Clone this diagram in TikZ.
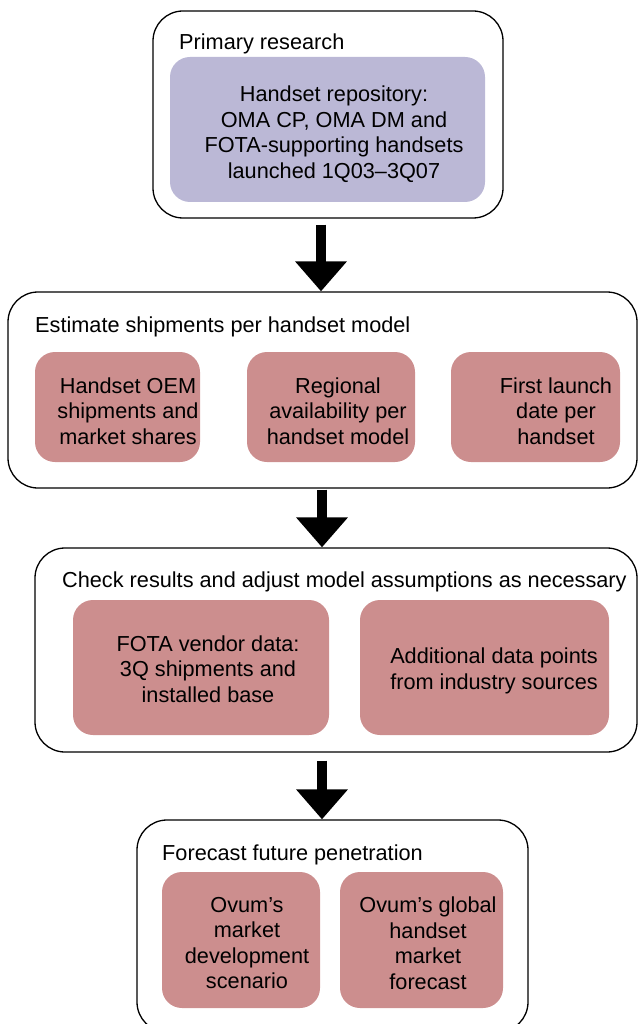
\documentclass[tikz,border=0pt]{standalone}
\usepackage{fontspec}
\setmainfont{Liberation Sans}
\usetikzlibrary{arrows.meta}
\definecolor{lav}{HTML}{BBB8D6}
\definecolor{rose}{HTML}{CC8E8E}
\begin{document}
\begin{tikzpicture}[x=1pt,y=-1pt,
  outer/.style={draw=black,line width=1.3pt,rounded corners=30pt,inner sep=0pt,minimum width=#1},
  inbox/.style={fill=rose,draw=none,rounded corners=20pt,inner sep=0pt},
  lbl/.style={align=center,inner sep=0pt,font=\fontsize{21.7}{25.5}\selectfont},
  ttl/.style={anchor=base west,inner sep=0pt,font=\fontsize{21.7}{25.5}\selectfont},
  bigarrow/.style={line width=10pt,-{Triangle[width=50pt,length=30pt]}}
]
\useasboundingbox (0,0) rectangle (638,1024);
% Box 1
\node[outer=350pt,minimum height=207pt] (b1) at (328,114.5) {};
\node[ttl] (t1) at (179,50) {Primary research};
\node[inbox,fill=lav,minimum width=315pt,minimum height=145pt] (p1) at (327.5,129.5) {};
\node[lbl] (p1t) at (334,134) {Handset repository:\\OMA CP, OMA DM and\\FOTA-supporting handsets\\launched 1Q03--3Q07};
% Box 2
\node[outer=629pt,minimum height=196pt] (b2) at (322.5,390) {};
\node[ttl] (t2) at (35,332) {Estimate shipments per handset model};
\node[inbox,minimum width=165pt,minimum height=110pt] (q1) at (117.5,407) {};
\node[inbox,minimum width=168pt,minimum height=110pt] (q2) at (331,407) {};
\node[inbox,minimum width=169pt,minimum height=110pt] (q3) at (535.5,407) {};
\node[lbl] (q1t) at (128,411) {Handset OEM\\shipments and\\market shares};
\node[lbl] (q2t) at (338,411) {Regional\\availability per\\handset model};
\node[lbl] (q3t) at (556,411) {First launch\\date per\\handset};
% Box 3
\node[outer=602pt,minimum height=204pt] (b3) at (336,650) {};
\node[ttl] (t3) at (62,587) {Check results and adjust model assumptions as necessary};
\node[inbox,minimum width=256pt,minimum height=135pt] (r1) at (201,667.5) {};
\node[inbox,minimum width=249pt,minimum height=135pt] (r2) at (484.5,667.5) {};
\node[lbl] (r1t) at (208,669) {FOTA vendor data:\\3Q shipments and\\installed base};
\node[lbl] (r2t) at (494,671) {Additional data points\\from industry sources};
% Box 4
\node[outer=391pt,minimum height=212pt] (b4) at (332.5,926) {};
\node[ttl] (t4) at (162,860) {Forecast future penetration};
\node[inbox,minimum width=158pt,minimum height=136pt] (s1) at (241,940) {};
\node[inbox,minimum width=163pt,minimum height=136pt] (s2) at (421.5,940) {};
\node[lbl] (s1t) at (247,943) {Ovum's\\market\\development\\scenario};
\node[lbl] (s2t) at (428,943) {Ovum's global\\handset\\market\\forecast};
% Arrows
\draw[bigarrow] ([xshift=-7pt,yshift=-6pt]b1.south) -- ([xshift=-1.5pt]b2.north);
\draw[bigarrow] ([xshift=-0.5pt,yshift=-1pt]b2.south) -- ([xshift=-14pt]b3.north);
\draw[bigarrow] ([xshift=-14pt,yshift=-8pt]b3.south) -- ([xshift=-10.5pt]b4.north);
\end{tikzpicture}
\end{document}
